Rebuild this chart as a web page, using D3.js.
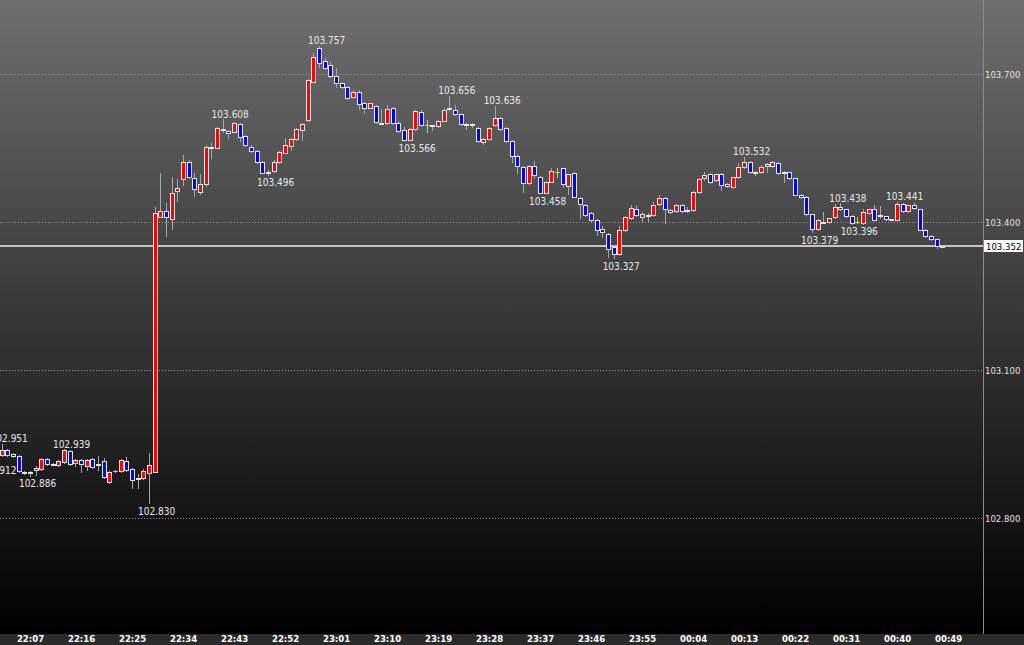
<!DOCTYPE html>
<html><head><meta charset="utf-8">
<script src="https://cdn.jsdelivr.net/npm/d3@7"></script>
<style>html,body{margin:0;padding:0;background:#000;overflow:hidden}</style>
</head><body><svg id="chart" width="1024" height="645"></svg>
<script>
// ---- data (1-minute candles starting 22:02) ----
const startTime = "22:02";
const openP = [102.928,102.938,102.930,102.926,102.893,102.892,102.897,102.899,102.920,102.909,
102.907,102.914,102.936,102.912,102.918,102.905,102.920,102.910,102.916,102.873,
102.896,102.895,102.916,102.899,102.882,102.881,102.891,102.894,103.411,103.422,
103.406,103.463,103.487,103.521,103.490,103.460,103.477,103.553,103.551,103.589,
103.584,103.583,103.599,103.574,103.553,103.543,103.521,103.500,103.503,103.521,
103.540,103.555,103.568,103.586,103.607,103.684,103.752,103.726,103.718,103.696,
103.681,103.673,103.654,103.664,103.641,103.632,103.635,103.600,103.600,103.632,
103.601,103.586,103.566,103.588,103.622,103.597,103.595,103.595,103.605,103.632,
103.628,103.618,103.598,103.598,103.590,103.563,103.568,103.597,103.610,103.590,
103.565,103.534,103.512,103.480,103.514,103.492,103.459,103.482,103.501,103.509,
103.473,103.500,103.448,103.434,103.418,103.404,103.385,103.375,103.349,103.335,
103.384,103.408,103.426,103.411,103.414,103.414,103.436,103.448,103.424,103.422,
103.434,103.424,103.424,103.460,103.490,103.497,103.485,103.497,103.478,103.470,
103.491,103.511,103.521,103.501,103.502,103.514,103.514,103.520,103.501,103.501,
103.489,103.455,103.450,103.416,103.385,103.399,103.399,103.411,103.431,103.426,
103.412,103.399,103.397,103.419,103.426,103.414,103.412,103.405,103.405,103.436,
103.423,103.434,103.426,103.384,103.372,103.365,103.351];
const highP = [102.951,102.940,102.932,102.928,102.895,102.896,102.905,102.922,102.922,102.911,
102.918,102.939,102.937,102.920,102.920,102.920,102.922,102.926,102.922,102.895,
102.898,102.920,102.924,102.901,102.889,102.899,102.932,103.430,103.500,103.439,
103.492,103.487,103.536,103.526,103.499,103.497,103.556,103.560,103.593,103.608,
103.586,103.603,103.601,103.576,103.556,103.546,103.524,103.505,103.526,103.544,
103.570,103.570,103.591,103.601,103.690,103.742,103.757,103.732,103.724,103.713,
103.684,103.676,103.667,103.667,103.643,103.642,103.637,103.630,103.637,103.634,
103.604,103.592,103.590,103.627,103.628,103.607,103.597,103.607,103.631,103.656,
103.637,103.620,103.601,103.600,103.592,103.570,103.592,103.636,103.613,103.592,
103.566,103.536,103.514,103.516,103.524,103.493,103.483,103.509,103.509,103.509,
103.498,103.501,103.450,103.436,103.421,103.406,103.392,103.377,103.350,103.392,
103.412,103.434,103.434,103.420,103.419,103.441,103.455,103.450,103.426,103.436,
103.436,103.431,103.462,103.489,103.502,103.499,103.498,103.499,103.480,103.492,
103.519,103.532,103.523,103.503,103.515,103.519,103.523,103.522,103.503,103.502,
103.490,103.456,103.452,103.417,103.406,103.421,103.409,103.436,103.438,103.427,
103.414,103.411,103.427,103.427,103.434,103.432,103.413,103.407,103.441,103.438,
103.435,103.438,103.427,103.385,103.373,103.366,103.353];
const lowP = [102.926,102.926,102.924,102.893,102.889,102.886,102.887,102.897,102.907,102.907,
102.905,102.912,102.907,102.905,102.893,102.897,102.901,102.897,102.881,102.871,
102.894,102.893,102.895,102.861,102.861,102.879,102.830,102.893,103.410,103.372,
103.386,103.443,103.475,103.489,103.453,103.457,103.473,103.530,103.550,103.583,
103.570,103.582,103.564,103.554,103.541,103.520,103.499,103.496,103.501,103.520,
103.540,103.546,103.566,103.566,103.605,103.684,103.715,103.710,103.694,103.674,
103.672,103.649,103.652,103.630,103.620,103.631,103.601,103.599,103.599,103.599,
103.582,103.566,103.566,103.586,103.595,103.583,103.586,103.593,103.605,103.627,
103.617,103.597,103.589,103.593,103.562,103.558,103.566,103.595,103.586,103.562,
103.522,103.499,103.461,103.478,103.489,103.458,103.458,103.481,103.491,103.470,
103.456,103.450,103.408,103.412,103.401,103.374,103.370,103.330,103.327,103.334,
103.382,103.406,103.412,103.401,103.401,103.412,103.434,103.397,103.418,103.420,
103.421,103.421,103.423,103.459,103.485,103.480,103.483,103.465,103.471,103.469,
103.489,103.509,103.499,103.495,103.500,103.502,103.512,103.497,103.482,103.487,
103.454,103.449,103.415,103.379,103.383,103.397,103.397,103.409,103.424,103.411,
103.396,103.397,103.396,103.417,103.404,103.408,103.405,103.404,103.404,103.421,
103.421,103.426,103.383,103.370,103.364,103.347,103.349];
const closeP = [102.938,102.928,102.926,102.895,102.892,102.894,102.901,102.920,102.909,102.910,
102.916,102.938,102.909,102.918,102.909,102.918,102.903,102.909,102.883,102.893,
102.896,102.918,102.897,102.877,102.881,102.895,102.907,103.418,103.422,103.411,
103.458,103.468,103.521,103.491,103.466,103.478,103.553,103.552,103.590,103.588,
103.580,103.600,103.573,103.556,103.543,103.521,103.500,103.501,103.522,103.541,
103.556,103.568,103.588,103.599,103.688,103.735,103.723,103.713,103.696,103.681,
103.673,103.651,103.664,103.639,103.632,103.641,103.602,103.601,103.630,103.600,
103.584,103.567,103.588,103.624,103.597,103.597,103.596,103.605,103.628,103.629,
103.618,103.598,103.599,103.597,103.564,103.568,103.590,103.610,103.589,103.564,
103.534,103.514,103.480,103.514,103.495,103.459,103.482,103.504,103.501,103.477,
103.497,103.451,103.436,103.414,103.404,103.384,103.379,103.345,103.335,103.384,
103.411,103.428,103.414,103.416,103.415,103.434,103.448,103.426,103.421,103.434,
103.423,103.425,103.460,103.487,103.495,103.482,103.497,103.474,103.473,103.491,
103.511,103.521,103.501,103.500,103.512,103.517,103.521,103.499,103.502,103.489,
103.455,103.450,103.416,103.385,103.404,103.400,103.408,103.431,103.426,103.412,
103.397,103.399,103.420,103.426,103.405,103.415,103.406,103.406,103.436,103.423,
103.434,103.428,103.384,103.372,103.365,103.351,103.352];
const tickLabels = ["22:07","22:16","22:25","22:34","22:43","22:52","23:01","23:10","23:19","23:28",
"23:37","23:46","23:55","00:04","00:13","00:22","00:31","00:40","00:49"];
const priceTicks = [103.700, 103.400, 103.100, 102.800];
const lastPrice = 103.352;
// marked highs (h) and lows (l): candle index, price
const markIndex = [-2, 0, 5, 11, 26, 39, 47, 56, 72, 79, 87, 95, 108, 131, 143, 148, 150, 158];
const markValue = [102.912, 102.951, 102.886, 102.939, 102.830, 103.608, 103.496, 103.757, 103.566,
  103.656, 103.636, 103.458, 103.327, 103.532, 103.379, 103.438, 103.396, 103.441];
const markType = ["l","h","l","h","l","h","l","h","l","h","h","l","l","h","l","h","l","h"];

// ---- layout ----
const W = 1024, H = 645, plotW = 983, plotH = 634;
const svg = d3.select("#chart");
const defs = svg.append("defs");
const grad = defs.append("linearGradient").attr("id","bg").attr("x1",0).attr("y1",0).attr("x2",0).attr("y2",1);
grad.append("stop").attr("offset","0%").attr("stop-color","#6f6f6f");
grad.append("stop").attr("offset","100%").attr("stop-color","#000000");
svg.append("rect").attr("width",W).attr("height",plotH).attr("fill","url(#bg)");
svg.append("rect").attr("y",plotH).attr("width",W).attr("height",H-plotH).attr("fill","#2a2a2a");

const toMin = s => { const [h,m] = s.split(":").map(Number); return h*60+m; };
const t0 = toMin(startTime);
const offsetOf = s => { let v = toMin(s) - t0; if (v < 0) v += 1440; return v; };

const x = d3.scaleLinear().domain([-0.3, 173.16]).range([0, plotW]);
const y = d3.scaleLinear().domain([102.8, 103.7]).range([518, 74]);

// grid
svg.append("g").selectAll("line").data(priceTicks).join("line")
  .attr("x1",0).attr("x2",plotW)
  .attr("y1",d=>Math.round(y(d))+0.5).attr("y2",d=>Math.round(y(d))+0.5)
  .attr("stroke","#9a9a9a").attr("stroke-width",1).attr("stroke-dasharray","1,2");

// current price line
svg.append("line").attr("x1",0).attr("x2",plotW)
  .attr("y1",Math.round(y(lastPrice))).attr("y2",Math.round(y(lastPrice)))
  .attr("stroke","#c4c4c4").attr("stroke-width",2);

// right axis line
svg.append("line").attr("x1",plotW+0.5).attr("x2",plotW+0.5).attr("y1",0).attr("y2",plotH)
  .attr("stroke","#8c8c8c");

const candles = openP.map((o,i)=>({i, o, h:highP[i], l:lowP[i], c:closeP[i]}));
const g = svg.append("g");
candles.forEach(d=>{
  const cx = Math.round(x(d.i));
  const doji = d.o === d.c;
  g.append("line").attr("x1",cx+0.5).attr("x2",cx+0.5)
    .attr("y1",Math.round(y(d.h))).attr("y2",Math.round(y(d.l))+1)
    .attr("stroke", doji ? "#d8d800" : "#a8a8a8");
  if (doji) {
    g.append("line").attr("x1",cx-2).attr("x2",cx+3)
      .attr("y1",Math.round(y(d.o))+0.5).attr("y2",Math.round(y(d.o))+0.5)
      .attr("stroke","#d8d800");
  } else {
    const yt = Math.round(y(Math.max(d.o,d.c)));
    const yb = Math.round(y(Math.min(d.o,d.c)));
    g.append("rect").attr("x",cx-2+0.5).attr("y",yt+0.5)
      .attr("width",4).attr("height",Math.max(yb-yt,1))
      .attr("fill", d.c > d.o ? "#ff0000" : "#0000ff")
      .attr("stroke","#e4e4e4").attr("stroke-width",1);
  }
});

// marks
const lab = svg.append("g").attr("font-family","'DejaVu Sans Condensed','DejaVu Sans',sans-serif")
  .attr("font-size","10px").attr("fill","#e8e8e8").attr("text-anchor","middle");
markIndex.forEach((idx,k)=>{
  lab.append("text").attr("x", x(idx)+7.5)
    .attr("y", markType[k]==="h" ? y(markValue[k]) - 1.5 : y(markValue[k]) + 11.5)
    .text(d3.format(".3f")(markValue[k]));
});

// right axis labels
const yAxis = d3.axisRight(y).tickValues(priceTicks).tickFormat(d3.format(".3f")).tickSize(0).tickPadding(2);
const ya = svg.append("g").attr("transform",`translate(${plotW},0)`).call(yAxis);
ya.select(".domain").remove();
ya.selectAll("text").attr("fill","#e0e0e0").attr("font-size","9.5px")
  .attr("font-family","'DejaVu Sans Condensed','DejaVu Sans',sans-serif");

// last price box
const ly = Math.round(y(lastPrice));
svg.append("rect").attr("x",plotW+1).attr("y",ly-6).attr("width",39).attr("height",12).attr("fill","#ffffff");
svg.append("text").attr("x",plotW+3).attr("y",ly+4).attr("font-size","9.5px")
  .attr("font-family","'DejaVu Sans Condensed','DejaVu Sans',sans-serif").attr("fill","#000")
  .text(d3.format(".3f")(lastPrice));

// bottom axis
const xAxis = d3.axisBottom(x).tickValues(tickLabels.map(offsetOf))
  .tickFormat((d,k)=>tickLabels[k]).tickSize(0).tickPadding(1);
const xa = svg.append("g").attr("transform",`translate(0,${plotH})`).call(xAxis);
xa.select(".domain").remove();
xa.selectAll("text").attr("fill","#ffffff").attr("font-size","9.5px").attr("font-weight","bold")
  .attr("font-family","'DejaVu Sans Condensed','DejaVu Sans',sans-serif");
</script></body></html>
